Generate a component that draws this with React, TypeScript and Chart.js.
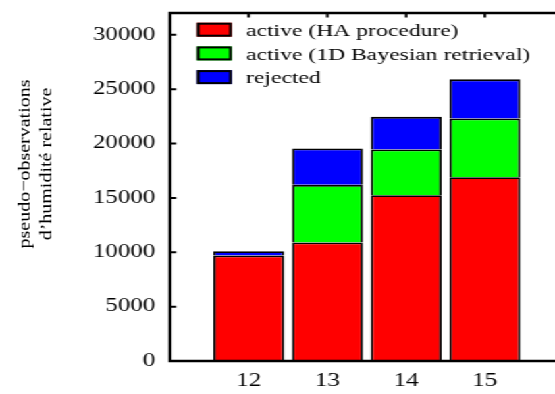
import { useEffect, useRef } from 'react';
import { Chart, registerables } from 'chart.js';

Chart.register(...registerables);

// ---- data ----
const categories = [12, 13, 14, 15];
const activeHA = [9700, 10900, 15250, 16900];
const active1D = [0, 5300, 4200, 5400];
const rejected = [400, 3350, 3000, 3600];
const seriesLabels = ['active (HA procedure)', 'active (1D Bayesian retrieval)', 'rejected'];
const seriesColors = ['#ff0000', '#00ff00', '#0000ff'];
const yTicks = [0, 5000, 10000, 15000, 20000, 25000, 30000];
const yTitleLines = ['pseudo\u2212observations', 'd\u2019humidit\u00e9 relative'];

// canvas is drawn narrower and stretched horizontally like the reference
const W = 411;
const H = 394;
const S = 555 / W;
const FONT = '"Liberation Serif", "Times New Roman", serif';

const framePlugin = {
  id: 'frame',
  afterDatasetsDraw(chart: any) {
    const { ctx, chartArea: a, scales } = chart;
    ctx.save();
    ctx.strokeStyle = '#000';
    ctx.lineJoin = 'miter';
    ctx.lineCap = 'butt';
    ctx.lineWidth = 2.3;
    ctx.beginPath();
    ctx.moveTo(a.right + 3, a.top);
    ctx.lineTo(a.left, a.top);
    ctx.lineTo(a.left, a.bottom);
    ctx.lineTo(a.right + 3, a.bottom);
    ctx.stroke();

    ctx.lineWidth = 2;
    ctx.beginPath();
    yTicks.forEach((v) => {
      const y = scales.y.getPixelForValue(v);
      ctx.moveTo(a.left, y);
      ctx.lineTo(a.left + 4.5, y);
    });
    categories.forEach((c) => {
      const x = scales.x.getPixelForValue(c);
      ctx.moveTo(x, a.top);
      ctx.lineTo(x, a.top + 4.5);
    });
    ctx.stroke();

    // legend inside the plot
    const ds = chart.data.datasets;
    const sx = 145.7;
    const sw = 25.9;
    const tx = 182.2;
    ctx.font = `17.5px ${FONT}`;
    ctx.textAlign = 'left';
    ctx.textBaseline = 'alphabetic';
    ds.forEach((d: any, i: number) => {
      const top = 22.7 + i * 23.7;
      ctx.fillStyle = d.backgroundColor;
      ctx.fillRect(sx, top, sw, 14);
      ctx.lineWidth = 2;
      ctx.strokeStyle = '#000';
      ctx.strokeRect(sx + 1, top + 1, sw - 2, 12);
      ctx.fillStyle = '#000';
      ctx.fillText(d.label, tx, top + 13.3);
    });

    // y-axis title (two lines, rotated)
    ctx.font = `20px ${FONT}`;
    ctx.textAlign = 'center';
    const baseX = [30 / S, 51 / S];
    yTitleLines.forEach((line, i) => {
      ctx.save();
      ctx.translate(baseX[i], 164);
      ctx.scale(0.85 / S, 1);
      ctx.rotate(-Math.PI / 2);
      ctx.fillStyle = '#000';
      ctx.fillText(line, 0, 0);
      ctx.restore();
    });
    ctx.restore();
  },
};

export default function App() {
  const ref = useRef<HTMLCanvasElement>(null);

  useEffect(() => {
    if (!ref.current) return;
    const series = [activeHA, active1D, rejected];
    const chart = new Chart(ref.current, {
      type: 'bar',
      data: {
        datasets: series.map((vals, k) => ({
          label: seriesLabels[k],
          data: categories.map((c, i) => ({ x: c, y: vals[i] })),
          backgroundColor: seriesColors[k],
          borderColor: '#000',
          borderWidth: 1.8,
          barPercentage: 0.9,
          categoryPercentage: 1,
        })),
      },
      options: {
        animation: false,
        responsive: false,
        devicePixelRatio: 1,
        layout: { padding: { top: 13, left: 0, right: 0, bottom: 0 } },
        plugins: { legend: { display: false }, tooltip: { enabled: false } },
        scales: {
          x: {
            type: 'linear',
            stacked: true,
            min: 11,
            max: 15.89,
            offset: false,
            grid: { display: false, drawTicks: false },
            border: { display: false },
            afterBuildTicks: (s: any) => {
              s.ticks = categories.map((v) => ({ value: v }));
            },
            afterFit: (s: any) => {
              s.height = 33;
              s.paddingLeft = 0;
              s.paddingRight = 0;
            },
            ticks: {
              font: { family: FONT, size: 18.5 },
              color: '#000',
              padding: 9.5,
              autoSkip: false,
              maxRotation: 0,
              callback: (v: any) => String(v),
            },
          },
          y: {
            stacked: true,
            min: 0,
            max: 32000,
            grid: { display: false, drawTicks: false },
            border: { display: false },
            afterBuildTicks: (s: any) => {
              s.ticks = yTicks.map((v) => ({ value: v }));
            },
            afterFit: (s: any) => {
              s.width = 125.9;
              s.paddingTop = 0;
              s.paddingBottom = 0;
            },
            ticks: {
              font: { family: FONT, size: 18.5 },
              color: '#000',
              padding: 11,
              callback: (v: any) => String(v),
            },
          },
        },
      } as any,
      plugins: [framePlugin],
    });
    return () => chart.destroy();
  }, []);

  return (
    <div
      style={{
        position: 'absolute',
        left: 0,
        top: 0,
        width: W,
        height: H,
        transform: `scaleX(${S})`,
        transformOrigin: '0 0',
        background: '#fff',
      }}
    >
      <canvas ref={ref} width={W} height={H} style={{ display: 'block' }} />
    </div>
  );
}
